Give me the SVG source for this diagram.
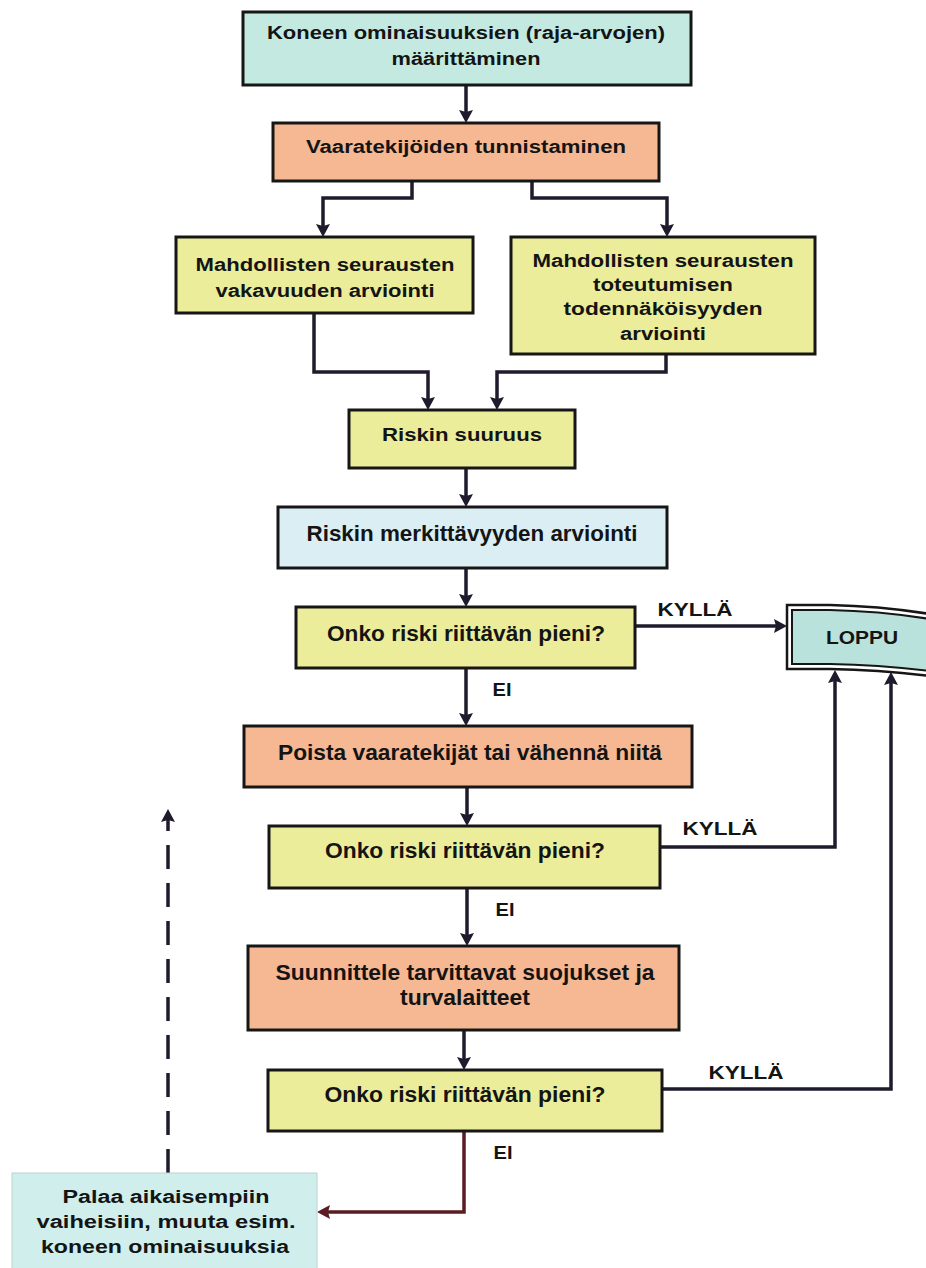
<svg xmlns="http://www.w3.org/2000/svg" width="926" height="1268" viewBox="0 0 926 1268">
<defs>
<style>
.box{stroke:#161616;stroke-width:3}
.teal{fill:#c4e9e0}
.orange{fill:#f6b892}
.yellow{fill:#ebed9a}
.blue{fill:#dbeef3}
.t{font-family:"Liberation Sans",Arial,sans-serif;font-weight:bold;font-size:18px;fill:#141414;text-anchor:middle}
.n{font-size:22px}
.c{fill:none;stroke:#1f1a2c;stroke-width:3.5}
.red{stroke:#5a1c22}
.dash{stroke-dasharray:24 14}
.lp{fill:none;stroke:#161616}
</style>
<marker id="ah" viewBox="0 0 13 14" refX="9" refY="7" markerWidth="13" markerHeight="14" markerUnits="userSpaceOnUse" orient="auto"><path d="M0,0 L13,7 L0,14 L2,7 z" fill="#1f1a2c"/></marker>
<marker id="ahr" viewBox="0 0 13 14" refX="9" refY="7" markerWidth="13" markerHeight="14" markerUnits="userSpaceOnUse" orient="auto"><path d="M0,0 L13,7 L0,14 L2,7 z" fill="#5a1c22"/></marker>
</defs>
<rect width="926" height="1268" fill="#ffffff"/>

<g id="connectors">
<path class="c" d="M466,86 V119" marker-end="url(#ah)"/>
<path class="c" d="M412,181 V198 H323 V233" marker-end="url(#ah)"/>
<path class="c" d="M532,181 V198 H667 V233" marker-end="url(#ah)"/>
<path class="c" d="M314,313 V372 H428 V406" marker-end="url(#ah)"/>
<path class="c" d="M666,354 V372 H497 V406" marker-end="url(#ah)"/>
<path class="c" d="M466,468 V503" marker-end="url(#ah)"/>
<path class="c" d="M466,568 V603" marker-end="url(#ah)"/>
<path class="c" d="M635,626 H783" marker-end="url(#ah)"/>
<path class="c" d="M466,668 V722" marker-end="url(#ah)"/>
<path class="c" d="M467,787 V822" marker-end="url(#ah)"/>
<path class="c" d="M660,847 H835 V674" marker-end="url(#ah)"/>
<path class="c" d="M467,888 V942" marker-end="url(#ah)"/>
<path class="c" d="M464,1030 V1066" marker-end="url(#ah)"/>
<path class="c" d="M662,1089 H891 V676" marker-end="url(#ah)"/>
<path class="c red" d="M464,1131 V1212 H321" marker-end="url(#ahr)"/>
<path class="c dash" d="M168,1173 V813" marker-end="url(#ah)"/>
<text class="t" x="695" y="616" textLength="75" lengthAdjust="spacingAndGlyphs">KYLLÄ</text>
<text class="t" x="720" y="835" textLength="75" lengthAdjust="spacingAndGlyphs">KYLLÄ</text>
<text class="t" x="746" y="1079" textLength="75" lengthAdjust="spacingAndGlyphs">KYLLÄ</text>
<text class="t" x="502" y="696" textLength="19" lengthAdjust="spacingAndGlyphs">EI</text>
<text class="t" x="505" y="916" textLength="19" lengthAdjust="spacingAndGlyphs">EI</text>
<text class="t" x="503" y="1159" textLength="19" lengthAdjust="spacingAndGlyphs">EI</text>
</g>

<g id="n1">
<rect class="box teal" x="243" y="12" width="448" height="73"/>
<text class="t" x="466" y="39" textLength="398" lengthAdjust="spacingAndGlyphs">Koneen ominaisuuksien (raja-arvojen)</text>
<text class="t" x="466" y="65" textLength="149" lengthAdjust="spacingAndGlyphs">määrittäminen</text>
</g>
<g id="n2">
<rect class="box orange" x="273" y="123" width="386" height="58"/>
<text class="t" x="466" y="153" textLength="320" lengthAdjust="spacingAndGlyphs">Vaaratekijöiden tunnistaminen</text>
</g>
<g id="n3">
<rect class="box yellow" x="176" y="237" width="297" height="76"/>
<text class="t" x="325" y="271" textLength="259" lengthAdjust="spacingAndGlyphs">Mahdollisten seurausten</text>
<text class="t" x="325" y="297" textLength="219" lengthAdjust="spacingAndGlyphs">vakavuuden arviointi</text>
</g>
<g id="n4">
<rect class="box yellow" x="511" y="237" width="304" height="117"/>
<text class="t" x="663" y="267" textLength="261" lengthAdjust="spacingAndGlyphs">Mahdollisten seurausten</text>
<text class="t" x="663" y="291" textLength="140" lengthAdjust="spacingAndGlyphs">toteutumisen</text>
<text class="t" x="663" y="315" textLength="199" lengthAdjust="spacingAndGlyphs">todennäköisyyden</text>
<text class="t" x="663" y="340" textLength="86" lengthAdjust="spacingAndGlyphs">arviointi</text>
</g>
<g id="n5">
<rect class="box yellow" x="349" y="410" width="226" height="58"/>
<text class="t" x="462" y="441" textLength="160" lengthAdjust="spacingAndGlyphs">Riskin suuruus</text>
</g>
<g id="n6">
<rect class="box blue" x="278" y="507" width="389" height="61"/>
<text class="t n" x="472" y="541" textLength="331" lengthAdjust="spacingAndGlyphs">Riskin merkittävyyden arviointi</text>
</g>
<g id="n7">
<rect class="box yellow" x="296" y="607" width="339" height="61"/>
<text class="t n" x="466" y="641" textLength="278" lengthAdjust="spacingAndGlyphs">Onko riski riittävän pieni?</text>
</g>
<g id="n8">
<rect class="box orange" x="244" y="726" width="448" height="61"/>
<text class="t n" x="470" y="760" textLength="384" lengthAdjust="spacingAndGlyphs">Poista vaaratekijät tai vähennä niitä</text>
</g>
<g id="n9">
<rect class="box yellow" x="269" y="826" width="391" height="62"/>
<text class="t n" x="465" y="858" textLength="280" lengthAdjust="spacingAndGlyphs">Onko riski riittävän pieni?</text>
</g>
<g id="n10">
<rect class="box orange" x="248" y="946" width="431" height="84"/>
<text class="t n" x="465" y="980" textLength="379" lengthAdjust="spacingAndGlyphs">Suunnittele tarvittavat suojukset ja</text>
<text class="t n" x="465" y="1005" textLength="130" lengthAdjust="spacingAndGlyphs">turvalaitteet</text>
</g>
<g id="n11">
<rect class="box yellow" x="268" y="1070" width="394" height="61"/>
<text class="t n" x="465" y="1102" textLength="281" lengthAdjust="spacingAndGlyphs">Onko riski riittävän pieni?</text>
</g>
<g id="loppu">
<path d="M787,605 L830,605 Q880,606 930,614 L930,676 Q880,670 830,669 L787,669 Z" fill="#ffffff"/>
<path d="M792,610 L830,610 Q880,611 930,619 L930,671 Q880,665 830,664 L792,664 Z" fill="#b8e2db"/>
<path class="lp" stroke-width="2.5" d="M930,614 Q880,606 830,605 L787,605 L787,669 L830,669 Q880,670 930,676"/>
<path class="lp" stroke-width="2" d="M930,619 Q880,611 830,610 L792,610 L792,664 L830,664 Q880,665 930,671"/>
<text class="t" x="862" y="644" font-size="17" textLength="72" lengthAdjust="spacingAndGlyphs">LOPPU</text>
</g>
<g id="palaa">
<rect x="12" y="1173" width="305" height="100" fill="#cfeeec" stroke="#bcd3d2" stroke-width="1"/>
<text class="t" x="166" y="1203" font-size="19" textLength="207" lengthAdjust="spacingAndGlyphs">Palaa aikaisempiin</text>
<text class="t" x="166" y="1228" font-size="19" textLength="259" lengthAdjust="spacingAndGlyphs">vaiheisiin, muuta esim.</text>
<text class="t" x="165" y="1253" font-size="19" textLength="248" lengthAdjust="spacingAndGlyphs">koneen ominaisuuksia</text>
</g>
</svg>
